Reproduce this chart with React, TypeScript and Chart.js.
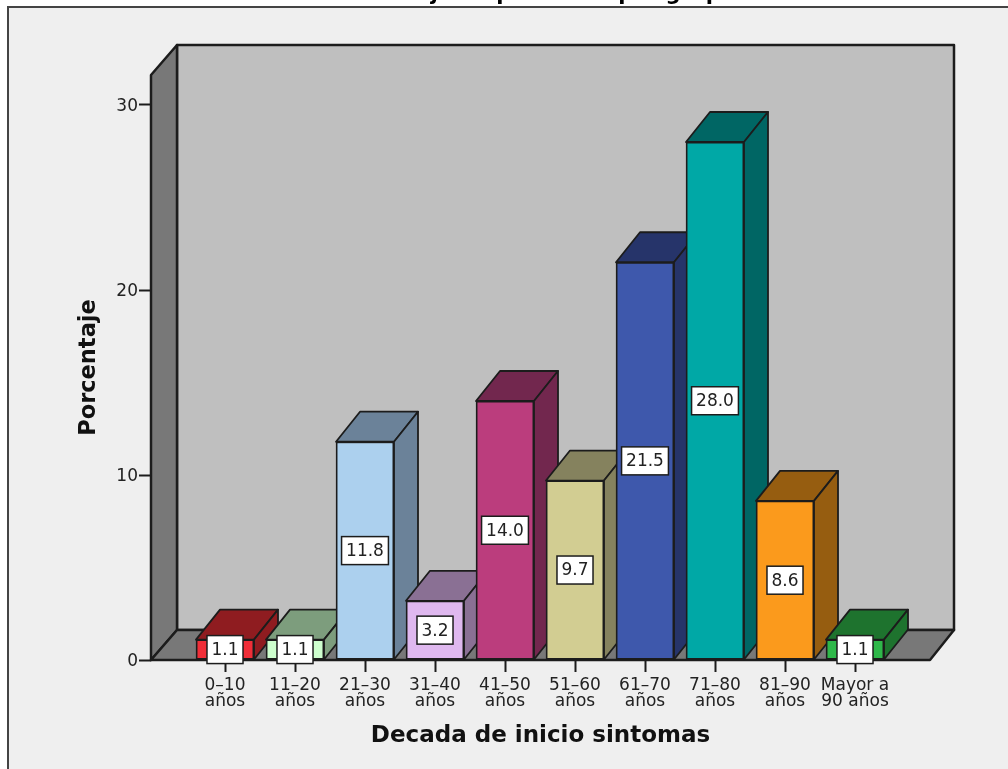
import React, { useEffect, useRef } from "react";
import { Chart, registerables } from "chart.js";

Chart.register(...registerables);

// Onset decades and the share of patients in each one.
const decades: string[][] = [
  ["0–10", "años"],
  ["11–20", "años"],
  ["21–30", "años"],
  ["31–40", "años"],
  ["41–50", "años"],
  ["51–60", "años"],
  ["61–70", "años"],
  ["71–80", "años"],
  ["81–90", "años"],
  ["Mayor a", "90 años"],
];
const percentages = [1.1, 1.1, 11.8, 3.2, 14.0, 9.7, 21.5, 28.0, 8.6, 1.1];
const frontColors = ["#f02e38", "#ceffce", "#acd0ee", "#dfb8ef", "#bb3d7d", "#d2cd92", "#3e58ac", "#00a8a6", "#fb9a1c", "#2fb84a"];
const sideColors = ["#8f1c20", "#7d9d7d", "#6b8299", "#8a7094", "#72274e", "#85825e", "#26346a", "#006664", "#965d10", "#1e732e"];
const yTicks = [0, 10, 20, 30];
const titleText = "Porcentaje de pacientes por grupo";

const FONT = "'DejaVu Sans', sans-serif";
const DEPTH_X = 24;
const DEPTH_Y = 30;
const INK = "#1c1c1c";

function poly(ctx: CanvasRenderingContext2D, pts: number[][], fill: string, stroke: string, lw: number) {
  ctx.beginPath();
  pts.forEach(([x, y], i) => (i ? ctx.lineTo(x, y) : ctx.moveTo(x, y)));
  ctx.closePath();
  ctx.fillStyle = fill;
  ctx.fill();
  ctx.lineWidth = lw;
  ctx.strokeStyle = stroke;
  ctx.lineJoin = "round";
  ctx.stroke();
}

// Page, frame and the clipped heading above it.
const backdrop = {
  id: "backdrop",
  beforeDraw(chart: any) {
    const { ctx, width, height } = chart;
    ctx.save();
    ctx.fillStyle = "#ffffff";
    ctx.fillRect(0, 0, width, height);
    ctx.fillStyle = "#000000";
    ctx.font = `bold 21px ${FONT}`;
    ctx.textAlign = "center";
    ctx.textBaseline = "alphabetic";
    ctx.fillText(titleText, 530, 0);
    ctx.fillStyle = "#efefef";
    ctx.strokeStyle = "#444444";
    ctx.lineWidth = 2;
    ctx.fillRect(8, 7, width, height);
    ctx.strokeRect(8, 7, width, height);
    ctx.restore();
  },
};

// Box walls and floor behind the bars, then each bar's top and side face.
const depthFaces = {
  id: "depthFaces",
  beforeDatasetsDraw(chart: any) {
    const { ctx, chartArea: a } = chart;
    const lw = 2.5;
    ctx.save();
    poly(ctx, [[a.left + DEPTH_X + 2, a.top - DEPTH_Y], [a.right + DEPTH_X, a.top - DEPTH_Y], [a.right + DEPTH_X, a.bottom - DEPTH_Y], [a.left + DEPTH_X + 2, a.bottom - DEPTH_Y]], "#bfbfbf", INK, lw);
    poly(ctx, [[a.left, a.top], [a.left + DEPTH_X + 2, a.top - DEPTH_Y], [a.left + DEPTH_X + 2, a.bottom - DEPTH_Y], [a.left, a.bottom]], "#787878", INK, lw);
    poly(ctx, [[a.left, a.bottom], [a.left + DEPTH_X + 2, a.bottom - DEPTH_Y], [a.right + DEPTH_X, a.bottom - DEPTH_Y], [a.right, a.bottom]], "#787878", INK, lw);
    chart.getDatasetMeta(0).data.forEach((bar: any, i: number) => {
      const hw = bar.width / 2;
      const l = bar.x - hw;
      const r = bar.x + hw;
      const t = bar.y;
      const b = bar.base;
      poly(ctx, [[l, t], [l + DEPTH_X, t - DEPTH_Y], [r + DEPTH_X, t - DEPTH_Y], [r, t]], sideColors[i], INK, 1.8);
      poly(ctx, [[r, t], [r + DEPTH_X, t - DEPTH_Y], [r + DEPTH_X, b - DEPTH_Y], [r, b]], sideColors[i], INK, 1.8);
    });
    ctx.restore();
  },
};

// White value tags centred on each bar's front face.
const valueTags = {
  id: "valueTags",
  afterDatasetsDraw(chart: any) {
    const { ctx } = chart;
    ctx.save();
    ctx.font = `17px ${FONT}`;
    ctx.textAlign = "center";
    ctx.textBaseline = "middle";
    chart.getDatasetMeta(0).data.forEach((bar: any, i: number) => {
      const text = percentages[i].toFixed(1);
      const w = ctx.measureText(text).width + 9;
      const h = 28;
      const cy = (bar.y + bar.base) / 2;
      ctx.fillStyle = "#ffffff";
      ctx.fillRect(bar.x - w / 2, cy - h / 2, w, h);
      ctx.lineWidth = 1.5;
      ctx.strokeStyle = INK;
      ctx.strokeRect(bar.x - w / 2, cy - h / 2, w, h);
      ctx.fillStyle = "#222222";
      ctx.fillText(text, bar.x, cy + 1);
    });
    ctx.restore();
  },
};

export default function App() {
  const ref = useRef<HTMLCanvasElement>(null);

  useEffect(() => {
    if (!ref.current) return;
    const chart = new Chart(ref.current, {
      type: "bar",
      data: {
        datasets: [
          {
            data: percentages.map((y, x) => ({ x, y })),
            backgroundColor: frontColors,
            borderColor: INK,
            borderWidth: 1.8,
            borderSkipped: false,
            barThickness: 58,
          },
        ],
      },
      plugins: [backdrop, depthFaces, valueTags],
      options: {
        responsive: false,
        animation: false,
        layout: { padding: { top: 75, right: 78, left: 0, bottom: 0 } },
        plugins: { legend: { display: false }, tooltip: { enabled: false } },
        scales: {
          x: {
            type: "linear",
            offset: false,
            min: -74 / 70,
            max: 9 + 75 / 70,
            afterBuildTicks: (s: any) => {
              s.ticks = decades.map((_, value) => ({ value }));
            },
            afterFit: (s: any) => {
              s.height = 109;
            },
            grid: { offset: false, drawOnChartArea: false, drawTicks: true, tickLength: 12, tickWidth: 2, tickColor: INK },
            border: { display: false },
            ticks: {
              autoSkip: false,
              maxRotation: 0,
              padding: 5,
              color: "#222222",
              font: { family: FONT, size: 17, lineHeight: 0.97 },
              callback: (v: any) => decades[v],
            },
            title: {
              display: true,
              text: "Decada de inicio sintomas",
              color: "#111111",
              font: { family: FONT, size: 23, weight: "bold", lineHeight: 1.2 },
              padding: { top: 0, bottom: 19 },
            },
          },
          y: {
            min: 0,
            max: 585 / 18.5,
            afterBuildTicks: (s: any) => {
              s.ticks = yTicks.map((value) => ({ value }));
            },
            afterFit: (s: any) => {
              s.width = 151;
            },
            grid: { drawOnChartArea: false, drawTicks: true, tickLength: 12, tickWidth: 2, tickColor: INK },
            border: { display: false },
            ticks: { padding: 1, labelOffset: 1.5, color: "#222222", font: { family: FONT, size: 17 } },
            title: {
              display: true,
              text: "Porcentaje",
              color: "#111111",
              font: { family: FONT, size: 22.5, weight: "bold", lineHeight: 1.2 },
              padding: { top: 76, bottom: 0 },
            },
          },
        },
      },
    } as any);
    return () => chart.destroy();
  }, []);

  return (
    <canvas
      ref={ref}
      width={1008}
      height={769}
      style={{ position: "absolute", left: 0, top: 0, display: "block" }}
    />
  );
}
